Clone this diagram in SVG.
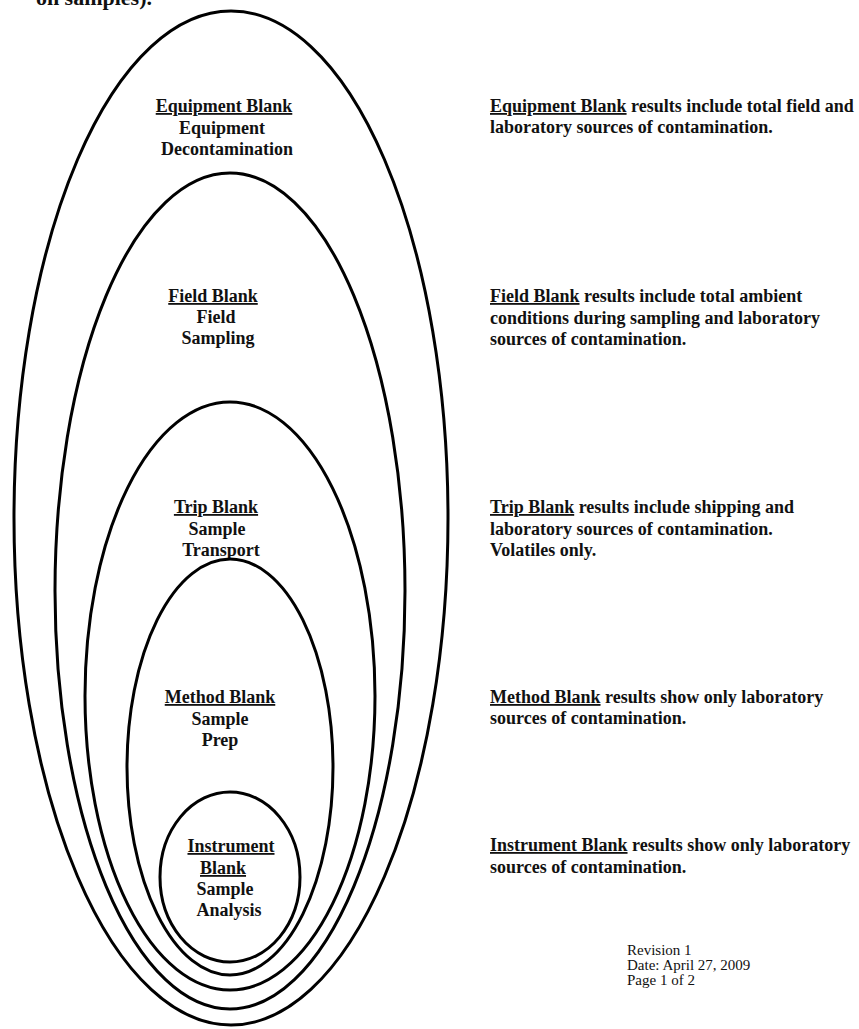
<svg xmlns="http://www.w3.org/2000/svg" width="859" height="1029" viewBox="0 0 859 1029">
<style>
.e{fill:none;stroke:#000;stroke-width:3}
.t{font-family:"Liberation Serif","Times New Roman",serif;font-weight:bold;font-size:18px;fill:#111}
.c{text-anchor:middle}
.u{text-decoration:underline}
.r{font-family:"Liberation Serif","Times New Roman",serif;font-size:15px;fill:#111}
</style>
<rect width="859" height="1029" fill="#fff"/>
<text class="t" x="152" y="5" style="font-size:22px;text-anchor:end">on samples).</text>
<g id="equipment-blank">
<ellipse class="e" cx="231" cy="518" rx="217" ry="507"/>
<text class="t c" x="224" y="112"><tspan class="u">Equipment Blank</tspan></text>
<text class="t c" x="222" y="134">Equipment</text>
<text class="t c" x="227" y="155">Decontamination</text>
</g>
<g id="field-blank">
<ellipse class="e" cx="230" cy="591" rx="175" ry="418"/>
<text class="t c" x="213" y="302"><tspan class="u">Field Blank</tspan></text>
<text class="t c" x="216" y="323">Field</text>
<text class="t c" x="218" y="344">Sampling</text>
</g>
<g id="trip-blank">
<ellipse class="e" cx="230" cy="696" rx="145" ry="294"/>
<text class="t c" x="216" y="513"><tspan class="u">Trip Blank</tspan></text>
<text class="t c" x="217" y="535">Sample</text>
<text class="t c" x="221" y="556">Transport</text>
</g>
<g id="method-blank">
<ellipse class="e" cx="230" cy="767" rx="103" ry="208"/>
<text class="t c" x="220" y="703"><tspan class="u">Method Blank</tspan></text>
<text class="t c" x="220" y="725">Sample</text>
<text class="t c" x="220" y="746">Prep</text>
</g>
<g id="instrument-blank">
<ellipse class="e" cx="230" cy="877" rx="70" ry="85"/>
<text class="t c" x="231" y="852"><tspan class="u">Instrument</tspan></text>
<text class="t" x="200" y="874"><tspan class="u">Blank</tspan></text>
<text class="t c" x="225" y="895">Sample</text>
<text class="t c" x="229" y="916">Analysis</text>
</g>
<g id="descriptions">
<text class="t" x="490" y="112"><tspan class="u">Equipment Blank</tspan> results include total field and</text>
<text class="t" x="490" y="133">laboratory sources of contamination.</text>
<text class="t" x="490" y="302"><tspan class="u">Field Blank</tspan> results include total ambient</text>
<text class="t" x="490" y="324">conditions during sampling and laboratory</text>
<text class="t" x="490" y="345">sources of contamination.</text>
<text class="t" x="490" y="513"><tspan class="u">Trip Blank</tspan> results include shipping and</text>
<text class="t" x="490" y="535">laboratory sources of contamination.</text>
<text class="t" x="490" y="556">Volatiles only.</text>
<text class="t" x="490" y="703"><tspan class="u">Method Blank</tspan> results show only laboratory</text>
<text class="t" x="490" y="724">sources of contamination.</text>
<text class="t" x="490" y="851"><tspan class="u">Instrument Blank</tspan> results show only laboratory</text>
<text class="t" x="490" y="873">sources of contamination.</text>
</g>
<g id="footer">
<text class="r" x="627" y="955">Revision 1</text>
<text class="r" x="627" y="970">Date: April 27, 2009</text>
<text class="r" x="627" y="985">Page 1 of 2</text>
</g>
</svg>
